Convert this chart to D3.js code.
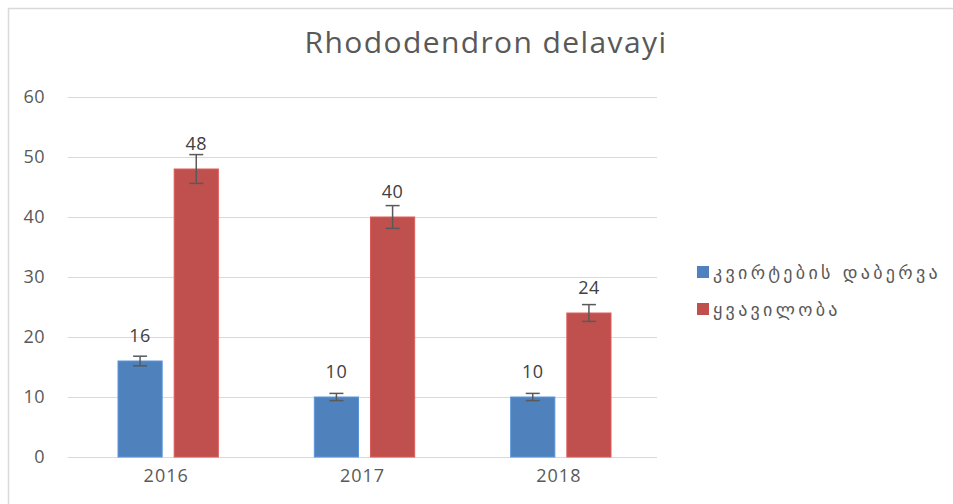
<!DOCTYPE html>
<html>
<head>
<meta charset="utf-8">
<script src="https://cdn.jsdelivr.net/npm/d3@7"></script>
<style>
  body { margin: 0; background: #fff; }
  svg { display: block; }
</style>
</head>
<body>
<svg width="953" height="504"></svg>
<script>
const years = ['2016', '2017', '2018'];
const seriesNames = ['კვირტების დაბერვა', 'ყვავილობა'];
const budValues = [16, 10, 10];
const bloomValues = [48, 40, 24];
const budErrors = [0.8, 0.6, 0.6];
const bloomErrors = [2.4, 1.9, 1.4];
const yTicks = [0, 10, 20, 30, 40, 50, 60];
const colors = ['#4f81bd', '#c0504d'];

const series = [
    { name: seriesNames[0], values: budValues, errors: budErrors },
    { name: seriesNames[1], values: bloomValues, errors: bloomErrors }
];

const svg = d3.select('svg');
const font = 'Open Sans, sans-serif';

// chart border (runs off right and bottom)
svg.append('rect')
    .attr('x', 8.5).attr('y', 8.5)
    .attr('width', 1000).attr('height', 1000)
    .attr('fill', 'none')
    .attr('stroke', '#d9d9d9')
    .attr('stroke-width', 1.5);

const margin = { top: 97, left: 68 };
const width = 589, height = 360;

const g = svg.append('g')
    .attr('transform', 'translate(' + margin.left + ',' + margin.top + ')');

const x = d3.scaleBand().domain(years).range([0, width]);
const xInner = d3.scaleBand().domain([0, 1]).range([50, x.bandwidth() - 46]).paddingInner(0.214);
const y = d3.scaleLinear().domain([0, 60]).range([height, 0]);

// gridlines
g.selectAll('.grid')
    .data(yTicks)
    .enter()
    .append('line')
    .attr('x1', 0).attr('x2', width)
    .attr('y1', d => y(d) + 0.5).attr('y2', d => y(d) + 0.5)
    .attr('stroke', '#d9d9d9')
    .attr('stroke-width', 1.2);

// y axis
const yAxis = g.append('g')
    .call(d3.axisLeft(y).tickValues(yTicks).tickSize(0).tickPadding(23));
yAxis.select('.domain').remove();
yAxis.selectAll('text')
    .attr('fill', '#595959')
    .style('font-family', font)
    .style('font-size', '18px')
    .style('letter-spacing', '0.5px');

// x axis
const xAxis = g.append('g')
    .attr('transform', 'translate(0,' + height + ')')
    .call(d3.axisBottom(x).tickSize(0).tickPadding(12));
xAxis.select('.domain').remove();
xAxis.selectAll('text')
    .attr('fill', '#595959')
    .style('font-family', font)
    .style('font-size', '18px')
    .style('letter-spacing', '1px');

// bars
series.forEach((s, si) => {
    const grp = g.append('g');
    const bx = i => x(years[i]) + xInner(si);
    const bw = xInner.bandwidth();

    grp.selectAll('rect')
        .data(s.values)
        .enter()
        .append('rect')
        .attr('x', (d, i) => bx(i))
        .attr('y', d => y(d))
        .attr('width', bw)
        .attr('height', d => height - y(d))
        .attr('fill', colors[si])
        .attr('stroke', d3.color(colors[si]).brighter(0.4))
        .attr('stroke-width', 1);

    // error bars
    s.values.forEach((v, i) => {
        const cx = bx(i) + bw / 2;
        const e = s.errors[i];
        const eg = grp.append('g').attr('stroke', '#595959').attr('stroke-width', 1.5);
        eg.append('line').attr('x1', cx).attr('x2', cx).attr('y1', y(v + e)).attr('y2', y(v - e));
        eg.append('line').attr('x1', cx - 7).attr('x2', cx + 7).attr('y1', y(v + e)).attr('y2', y(v + e));
        eg.append('line').attr('x1', cx - 7).attr('x2', cx + 7).attr('y1', y(v - e)).attr('y2', y(v - e));
    });

    // value labels
    grp.selectAll('.lbl')
        .data(s.values)
        .enter()
        .append('text')
        .attr('x', (d, i) => bx(i) + bw / 2)
        .attr('y', d => y(d) - 19)
        .attr('text-anchor', 'middle')
        .attr('fill', '#404040')
        .style('font-family', font)
        .style('font-size', '18px')
        .style('letter-spacing', '0.5px')
        .text(d => d);
});

// title
svg.append('text')
    .attr('x', 486).attr('y', 53)
    .attr('text-anchor', 'middle')
    .attr('fill', '#595959')
    .style('font-family', font)
    .style('font-size', '30px')
    .style('letter-spacing', '1.4px')
    .text('Rhododendron delavayi');

// legend
const legend = svg.append('g').attr('transform', 'translate(697,266)');
const li = legend.selectAll('g')
    .data(series)
    .enter()
    .append('g')
    .attr('transform', (d, i) => 'translate(0,' + i * 37 + ')');
li.append('rect')
    .attr('width', 12).attr('height', 12)
    .attr('fill', (d, i) => colors[i]);
li.append('text')
    .attr('x', 16).attr('y', 13)
    .attr('fill', '#595959')
    .style('font-family', 'DejaVu Sans, sans-serif')
    .style('font-size', '18px')
    .style('letter-spacing', '3.3px')
    .text(d => d.name);
</script>
</body>
</html>
